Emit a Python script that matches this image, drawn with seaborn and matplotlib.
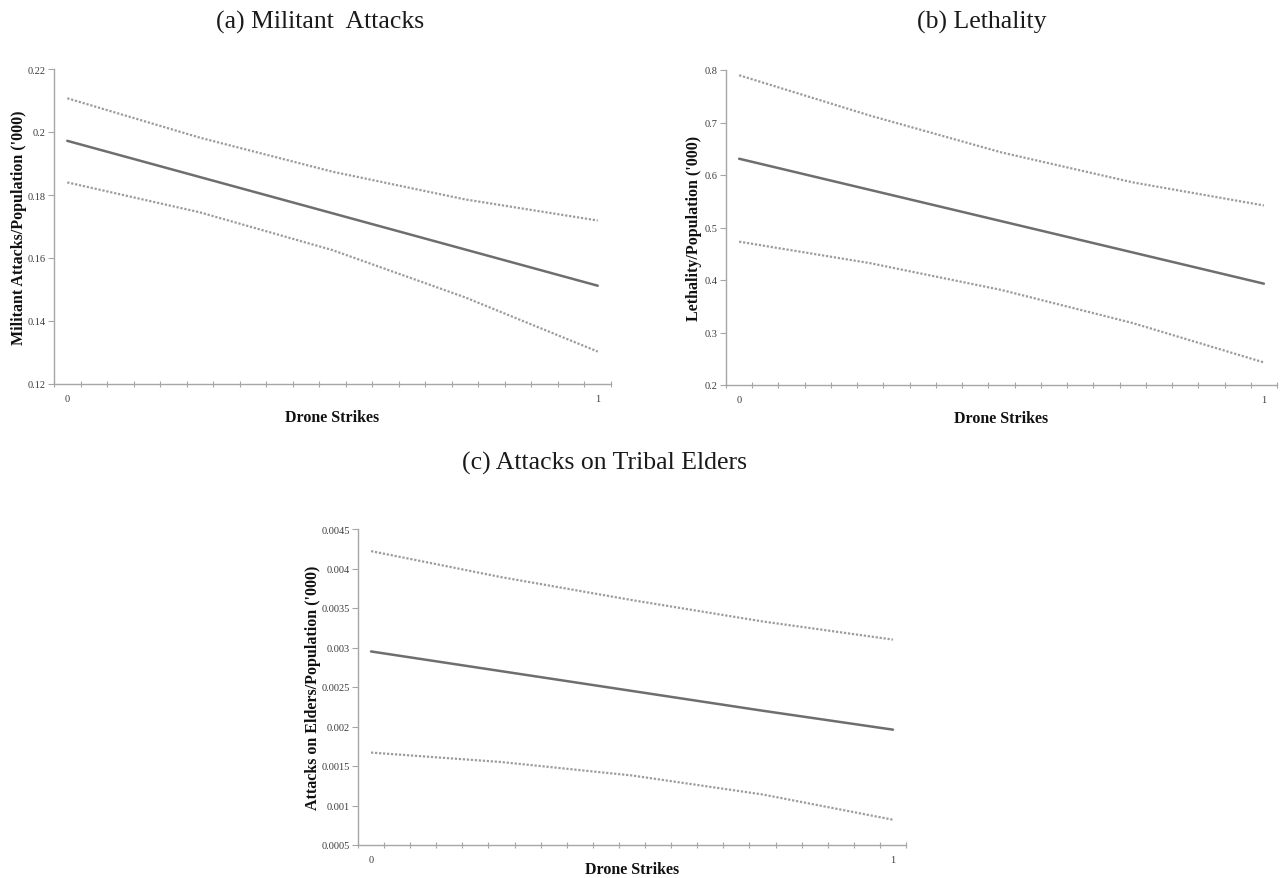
import matplotlib
matplotlib.use("Agg")
import matplotlib.pyplot as plt
import numpy as np
import pandas as pd
import seaborn as sns

# Predicted values (solid) with 95% confidence bounds (dotted) over drone strikes
drone_strikes = [0.0, 0.25, 0.5, 0.75, 1.0]

attacks_mid = [0.1972, 0.1857, 0.1742, 0.1627, 0.1512]
attacks_upper = [0.2107, 0.1982, 0.1874, 0.1786, 0.1719]
attacks_lower = [0.1840, 0.1745, 0.1625, 0.1475, 0.1303]

lethality_mid = [0.631, 0.5715, 0.512, 0.4525, 0.393]
lethality_upper = [0.790, 0.713, 0.643, 0.586, 0.542]
lethality_lower = [0.473, 0.432, 0.381, 0.318, 0.243]

elders_mid = [0.00295, 0.0027, 0.00245, 0.0022, 0.00196]
elders_upper = [0.00422, 0.00389, 0.00360, 0.00333, 0.00310]
elders_lower = [0.00167, 0.00155, 0.00138, 0.00114, 0.00082]

titles = ["(a) Militant  Attacks", "(b) Lethality", "(c) Attacks on Tribal Elders"]
y_labels = ["Militant Attacks/Population ('000)",
            "Lethality/Population ('000)",
            "Attacks on Elders/Population ('000)"]
x_label = "Drone Strikes"
y_ticks = [
    [0.12, 0.14, 0.16, 0.18, 0.2, 0.22],
    [0.2, 0.3, 0.4, 0.5, 0.6, 0.7, 0.8],
    [0.0005, 0.001, 0.0015, 0.002, 0.0025, 0.003, 0.0035, 0.004, 0.0045],
]
x_ticks = [0, 1]

sns.set_theme(style="white")
plt.rcParams["font.family"] = ["Liberation Serif", "DejaVu Serif"]

W, H = 1283, 879
fig = plt.figure(figsize=(W / 100, H / 100), dpi=100)


def px_axes(left, top, width, height):
    return fig.add_axes([left / W, 1 - (top + height) / H, width / W, height / H])


axis_grey = "#a6a6a6"
text_grey = "#3c3c3c"
mid_color = "#6e6e6e"
band_color = "#9c9c9c"

panels = [
    dict(box=(54, 70, 557, 315), mid=attacks_mid, up=attacks_upper, lo=attacks_lower,
         ylab_x=-0.048, xlab_y=-0.080, title_xy=(320, 22)),
    dict(box=(726, 71, 551, 315), mid=lethality_mid, up=lethality_upper, lo=lethality_lower,
         ylab_x=-0.043, xlab_y=-0.080, title_xy=(982, 22)),
    dict(box=(358, 530, 548, 316), mid=elders_mid, up=elders_upper, lo=elders_lower,
         ylab_x=-0.067, xlab_y=-0.050, title_xy=(605, 463)),
]

for i, p in enumerate(panels):
    ax = px_axes(*p["box"])
    df = pd.DataFrame({"x": drone_strikes, "mid": p["mid"], "up": p["up"], "lo": p["lo"]})
    sns.lineplot(data=df, x="x", y="up", ax=ax, color=band_color, lw=1.6,
                 linestyle=(0, (1, 0.8)))
    sns.lineplot(data=df, x="x", y="lo", ax=ax, color=band_color, lw=1.6,
                 linestyle=(0, (1, 0.8)))
    sns.lineplot(data=df, x="x", y="mid", ax=ax, color=mid_color, lw=1.8)

    yt = y_ticks[i]
    ax.set_ylim(yt[0], yt[-1])
    ax.set_yticks(yt)
    ax.set_yticklabels([f"{v:g}" for v in yt])
    ax.set_xlim(-0.025, 1.025)
    ax.set_xticks(x_ticks)
    ax.set_xticklabels([str(v) for v in x_ticks])
    ax.set_xticks([-0.025 + 0.05 * k for k in range(22)], minor=True)

    for side in ["top", "right"]:
        ax.spines[side].set_visible(False)
    for side in ["left", "bottom"]:
        ax.spines[side].set_color(axis_grey)
        ax.spines[side].set_linewidth(1.0)

    ax.tick_params(axis="y", which="major", direction="out", length=4, width=0.8,
                   color=axis_grey, labelsize=7.5, labelcolor=text_grey, pad=2, left=True)
    ax.tick_params(axis="x", which="major", length=0, labelsize=7.5,
                   labelcolor=text_grey, pad=7, bottom=True)
    ax.tick_params(axis="x", which="minor", direction="inout", length=4, width=0.8,
                   color=axis_grey, bottom=True)

    ax.set_ylabel(y_labels[i], fontsize=11.5, fontweight="bold", color="#111111")
    ax.yaxis.set_label_coords(p["ylab_x"], 0.5)
    ax.set_xlabel(x_label, fontsize=11.5, fontweight="bold", color="#111111")
    ax.xaxis.set_label_coords(0.5, p["xlab_y"])
    ax.grid(False)

    tx, ty = p["title_xy"]
    fig.text(tx / W, 1 - ty / H, titles[i], ha="center", va="center",
             fontsize=18.5, color="#1a1a1a")

fig.savefig("out.png", dpi=100, facecolor="white")
